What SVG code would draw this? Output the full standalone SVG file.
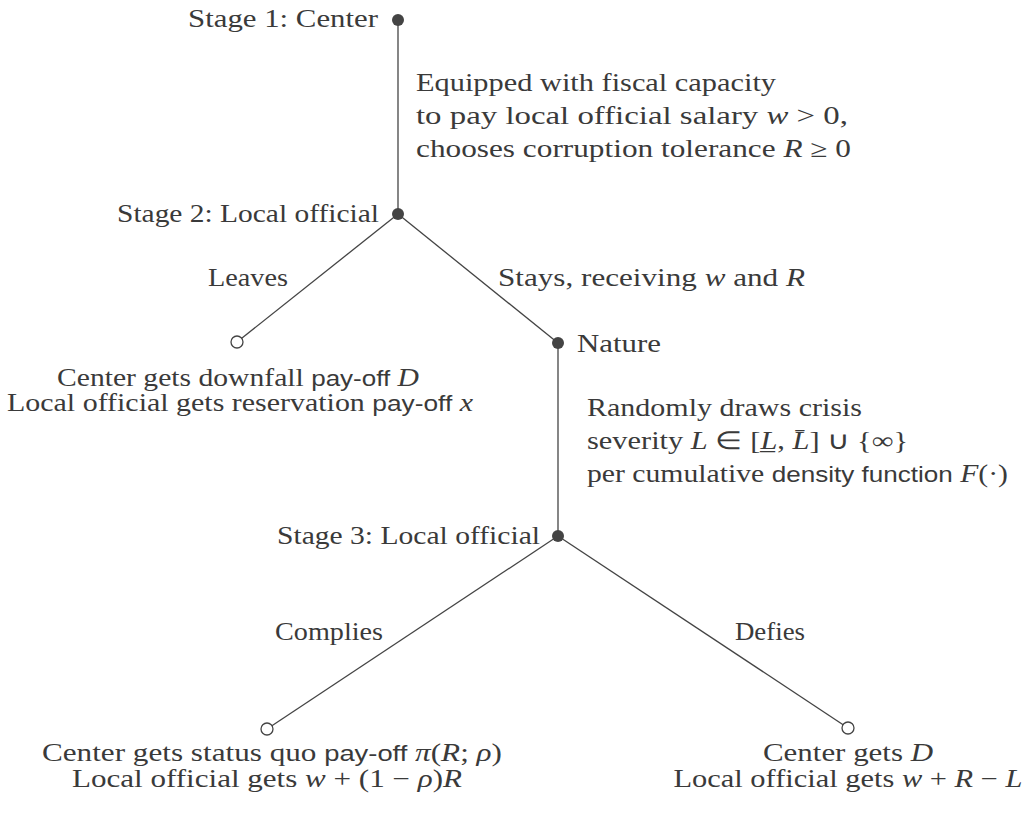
<svg xmlns="http://www.w3.org/2000/svg" width="1030" height="813" viewBox="0 0 1030 813">
<style>
text{font-family:"Liberation Serif","Times New Roman",serif;font-size:24.5px;fill:#3a3a3a}
.m{font-style:italic}
.s{font-family:"Liberation Sans",Arial,sans-serif;font-size:21.5px}
.e{stroke:#444;stroke-width:1.3;fill:none}
.d{fill:#444}
.o{fill:#fff;stroke:#444;stroke-width:1.3}
</style>
<rect width="1030" height="813" fill="#fff"/>
<g id="connectors">
<line class="e" x1="398" y1="20" x2="398" y2="214"/>
<line class="e" x1="398" y1="214" x2="237" y2="342"/>
<line class="e" x1="398" y1="214" x2="558" y2="343"/>
<line class="e" x1="558" y1="343" x2="558" y2="536"/>
<line class="e" x1="558" y1="536" x2="267" y2="729"/>
<line class="e" x1="558" y1="536" x2="848" y2="728"/>
<text x="416" y="91" textLength="360" lengthAdjust="spacingAndGlyphs">Equipped with fiscal capacity</text>
<text x="416" y="124" textLength="432" lengthAdjust="spacingAndGlyphs">to pay local official salary <tspan class="m">w</tspan> &gt; 0,</text>
<text x="416" y="157" textLength="435" lengthAdjust="spacingAndGlyphs">chooses corruption tolerance <tspan class="m">R</tspan> ≥ 0</text>
<text x="248" y="286" text-anchor="middle" textLength="80" lengthAdjust="spacingAndGlyphs">Leaves</text>
<text x="498" y="286" textLength="307" lengthAdjust="spacingAndGlyphs">Stays, receiving <tspan class="m">w</tspan> and <tspan class="m">R</tspan></text>
<text x="587" y="416" textLength="275" lengthAdjust="spacingAndGlyphs">Randomly draws crisis</text>
<text x="587" y="449" textLength="321" lengthAdjust="spacingAndGlyphs">severity <tspan class="m">L</tspan> ∈ [<tspan class="m">L̲</tspan>, <tspan class="m">L̄</tspan>] ∪ {∞}</text>
<text x="587" y="482" textLength="421" lengthAdjust="spacingAndGlyphs">per cumulative <tspan class="s">density function</tspan> <tspan class="m">F</tspan>(·)</text>
<text x="329" y="640" text-anchor="middle" textLength="108" lengthAdjust="spacingAndGlyphs">Complies</text>
<text x="770" y="640" text-anchor="middle" textLength="70" lengthAdjust="spacingAndGlyphs">Defies</text>
</g>
<g id="n1">
<circle class="d" cx="398" cy="20" r="6"/>
<text x="378" y="27" text-anchor="end" textLength="190" lengthAdjust="spacingAndGlyphs">Stage 1: Center</text>
</g>
<g id="n2">
<circle class="d" cx="398" cy="214" r="6"/>
<text x="379" y="222" text-anchor="end" textLength="262" lengthAdjust="spacingAndGlyphs">Stage 2: Local official</text>
</g>
<g id="leave">
<circle class="o" cx="237" cy="342" r="6"/>
<text x="238" y="386" text-anchor="middle" textLength="362" lengthAdjust="spacingAndGlyphs">Center gets downfall <tspan class="s">pay-off</tspan> <tspan class="m">D</tspan></text>
<text x="240" y="411" text-anchor="middle" textLength="466" lengthAdjust="spacingAndGlyphs">Local official gets reservation <tspan class="s">pay-off</tspan> <tspan class="m">x</tspan></text>
</g>
<g id="nature">
<circle class="d" cx="558" cy="343" r="6"/>
<text x="577" y="352" textLength="84" lengthAdjust="spacingAndGlyphs">Nature</text>
</g>
<g id="n3">
<circle class="d" cx="558" cy="536" r="6"/>
<text x="540" y="544" text-anchor="end" textLength="263" lengthAdjust="spacingAndGlyphs">Stage 3: Local official</text>
</g>
<g id="comply">
<circle class="o" cx="267" cy="729" r="6"/>
<text x="272" y="761" text-anchor="middle" textLength="460" lengthAdjust="spacingAndGlyphs">Center gets status quo <tspan class="s">pay-off</tspan> <tspan class="m">π</tspan>(<tspan class="m">R</tspan>; <tspan class="m">ρ</tspan>)</text>
<text x="267" y="787" text-anchor="middle" textLength="390" lengthAdjust="spacingAndGlyphs">Local official gets <tspan class="m">w</tspan> + (1 − <tspan class="m">ρ</tspan>)<tspan class="m">R</tspan></text>
</g>
<g id="defy">
<circle class="o" cx="848" cy="728" r="6"/>
<text x="848" y="761" text-anchor="middle" textLength="170" lengthAdjust="spacingAndGlyphs">Center gets <tspan class="m">D</tspan></text>
<text x="848" y="787" text-anchor="middle" textLength="349" lengthAdjust="spacingAndGlyphs">Local official gets <tspan class="m">w</tspan> + <tspan class="m">R</tspan> − <tspan class="m">L</tspan></text>
</g>
</svg>
